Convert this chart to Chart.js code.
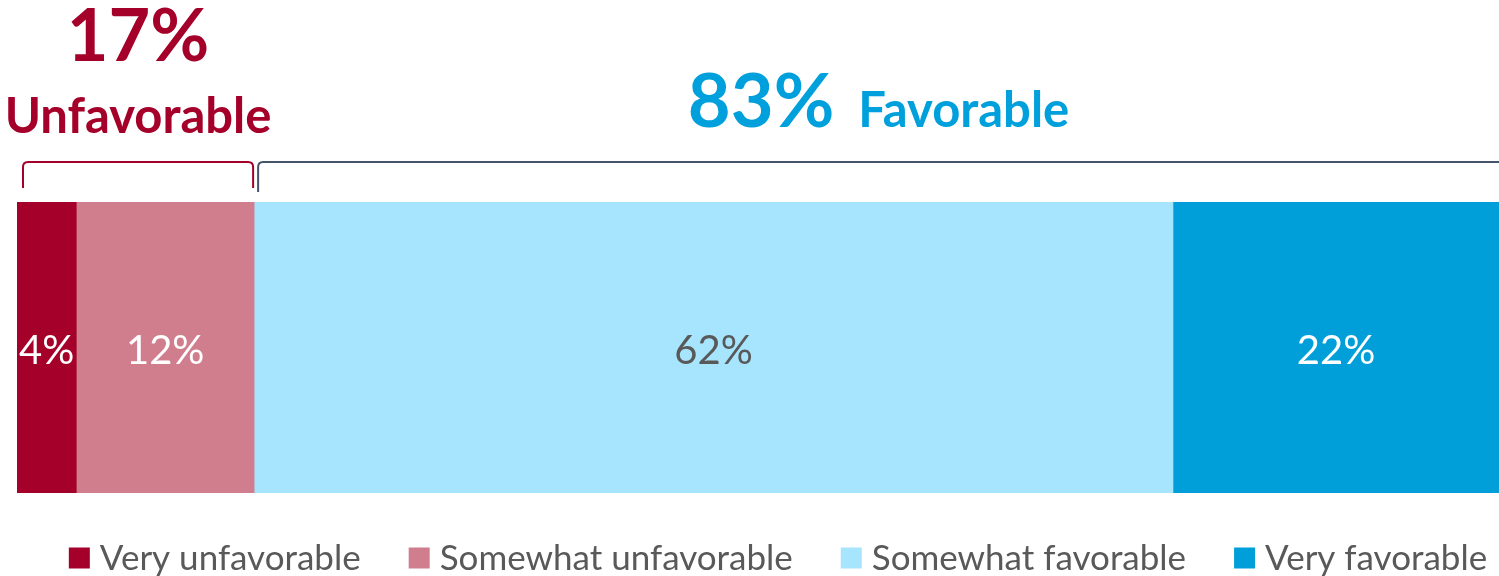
<!DOCTYPE html>
<html>
<head>
<meta charset="utf-8">
<title>Favorability</title>
<script src="https://cdn.jsdelivr.net/npm/chart.js@4"></script>
<style>
  html, body { margin: 0; padding: 0; background: #fff; }
  #wrap { width: 1499px; height: 576px; }
</style>
</head>
<body>
<div id="wrap"><canvas id="fav-chart" width="1499" height="576"></canvas></div>
<script>
// single stacked bar, one segment per answer
var categories = ['All respondents'];
var seriesNames = ['Very unfavorable', 'Somewhat unfavorable', 'Somewhat favorable', 'Very favorable'];
var seriesValues = [4, 12, 62, 22];
var seriesColors = ['#A50029', '#D07E8E', '#A6E5FD', '#009FDA'];
var labelColors = ['#ffffff', '#ffffff', '#595959', '#ffffff'];

// net groups shown above the bar with a bracket
var groupNames = ['Unfavorable', 'Favorable'];
var groupTotals = [17, 83];
var groupSeries = [[0, 1], [2, 3]];
var groupColors = ['#A50029', '#00A0DC'];
var bracketColors = ['#A50029', '#44546A'];

var FONT = "Lato, 'Noto Sans', sans-serif";

function spanOf(idx) {
  var start = 0;
  for (var i = 0; i < idx[0]; i++) start += seriesValues[i];
  var end = start;
  idx.forEach(function (i) { end += seriesValues[i]; });
  return [start, end];
}

var segmentLabels = {
  id: 'segmentLabels',
  afterDatasetsDraw: function (chart) {
    var ctx = chart.ctx;
    ctx.save();
    ctx.font = '40px ' + FONT;
    ctx.textAlign = 'center';
    ctx.textBaseline = 'alphabetic';
    chart.data.datasets.forEach(function (ds, i) {
      var bar = chart.getDatasetMeta(i).data[0];
      if (!bar) return;
      var cx = (bar.x + bar.base) / 2;
      var txt = ds.data[0] + '%';
      // narrow segments: let the label hang a little to the right
      var w = ctx.measureText(txt).width;
      if (w > Math.abs(bar.x - bar.base)) cx += 7;
      ctx.fillStyle = labelColors[i];
      ctx.fillText(txt, cx, bar.y + 16);
    });
    ctx.restore();
  }
};

function bracket(ctx, x0, x1, top, left, right, color) {
  var r = 5;
  ctx.save();
  ctx.strokeStyle = color;
  ctx.lineWidth = 2;
  ctx.beginPath();
  ctx.moveTo(x0, top + left);
  ctx.lineTo(x0, top + r);
  ctx.quadraticCurveTo(x0, top, x0 + r, top);
  if (right > 0) {
    ctx.lineTo(x1 - r, top);
    ctx.quadraticCurveTo(x1, top, x1, top + r);
    ctx.lineTo(x1, top + right);
  } else {
    ctx.lineTo(x1, top);
  }
  ctx.stroke();
  ctx.restore();
}

var groupHeaders = {
  id: 'groupHeaders',
  afterDraw: function (chart) {
    var ctx = chart.ctx;
    var x = chart.scales.x;

    // unfavorable: bracket with stacked total and name
    var s0 = spanOf(groupSeries[0]);
    var a0 = x.getPixelForValue(s0[0]) + 6;
    var b0 = x.getPixelForValue(s0[1]) - 1;
    bracket(ctx, a0, b0, 162, 26, 26, bracketColors[0]);
    var c0 = (a0 + b0) / 2;
    ctx.save();
    ctx.fillStyle = groupColors[0];
    ctx.textAlign = 'center';
    ctx.font = 'bold 72px ' + FONT;
    ctx.fillText(groupTotals[0] + '%', c0, 61);
    ctx.font = 'bold 49px ' + FONT;
    ctx.fillText(groupNames[0], c0, 133);
    ctx.restore();

    // favorable: bracket runs to the right edge, total and name on one line
    var s1 = spanOf(groupSeries[1]);
    var a1 = x.getPixelForValue(s1[0]) + 4;
    var b1 = x.getPixelForValue(s1[1]);
    bracket(ctx, a1, b1, 162, 30, 0, bracketColors[1]);
    var c1 = (a1 + b1) / 2;
    ctx.save();
    ctx.fillStyle = groupColors[1];
    ctx.textAlign = 'left';
    var big = 'bold 74px ' + FONT, small = 'bold 49px ' + FONT;
    ctx.font = big;
    var t1 = groupTotals[1] + '%';
    var w1 = ctx.measureText(t1).width;
    ctx.font = small;
    var w2 = ctx.measureText(groupNames[1]).width;
    var gap = 24;
    var left = c1 - (w1 + gap + w2) / 2;
    ctx.font = big;
    ctx.fillText(t1, left, 127);
    ctx.font = small;
    ctx.fillText(groupNames[1], left + w1 + gap, 127);
    ctx.restore();
  }
};

var bottomLegend = {
  id: 'bottomLegend',
  afterDraw: function (chart) {
    var ctx = chart.ctx;
    var box = 21, textGap = 10, itemGap = 48;
    ctx.save();
    ctx.font = '35px ' + FONT;
    var widths = seriesNames.map(function (n) { return ctx.measureText(n).width; });
    var total = 0;
    widths.forEach(function (w, i) {
      total += box + textGap + w + (i < widths.length - 1 ? itemGap : 0);
    });
    var xPos = 778 - total / 2;
    var yMid = 558;
    ctx.textBaseline = 'middle';
    ctx.textAlign = 'left';
    seriesNames.forEach(function (n, i) {
      ctx.fillStyle = seriesColors[i];
      ctx.fillRect(xPos, yMid - box / 2, box, box);
      ctx.fillStyle = '#595959';
      ctx.fillText(n, xPos + box + textGap, yMid + 1);
      xPos += box + textGap + widths[i] + itemGap;
    });
    ctx.restore();
  }
};

new Chart(document.getElementById('fav-chart').getContext('2d'), {
  type: 'bar',
  data: {
    labels: categories,
    datasets: seriesNames.map(function (name, i) {
      return {
        label: name,
        data: [seriesValues[i]],
        backgroundColor: seriesColors[i],
        borderWidth: 0,
        barPercentage: 1,
        categoryPercentage: 1
      };
    })
  },
  options: {
    indexAxis: 'y',
    responsive: false,
    animation: false,
    layout: { padding: { left: 17, right: 0, top: 202, bottom: 83 } },
    scales: {
      x: { stacked: true, min: 0, max: 100, display: false },
      y: { stacked: true, display: false }
    },
    plugins: {
      legend: { display: false },
      tooltip: { enabled: false }
    }
  },
  plugins: [segmentLabels, groupHeaders, bottomLegend]
});
</script>
</body>
</html>
